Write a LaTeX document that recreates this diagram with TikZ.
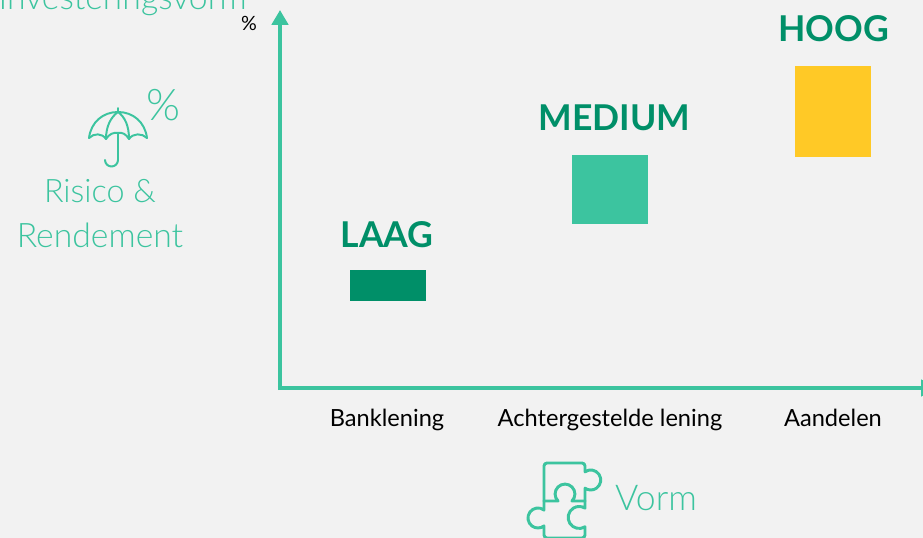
\documentclass[tikz,border=0pt]{standalone}
\usepackage{fontspec}
\setmainfont{Lato}
\usetikzlibrary{arrows.meta}
\definecolor{bgcol}{HTML}{F2F2F2}
\definecolor{lightgreen}{HTML}{3CC49F}
\definecolor{darkgreen}{HTML}{008F68}
\definecolor{yellowcol}{HTML}{FFC926}
\newfontfamily\light{Lato Light}
\tikzset{
    axisline/.style={lightgreen,line width=3pt,-{Triangle[width=11.5pt,length=10.5pt]}},
    iconline/.style={lightgreen,line width=1.4pt,line cap=round,line join=round},
    barbox/.style={anchor=north west,inner sep=0pt,outer sep=0pt},
    levellabel/.style={darkgreen,font=\fontsize{25.3}{28}\selectfont\bfseries,inner sep=0pt},
    formlabel/.style={black,anchor=base,font=\fontsize{16.8}{19}\selectfont,inner sep=0pt},
    sidelabel/.style={lightgreen,font=\fontsize{24}{28}\selectfont\light,inner sep=0pt}
}
\begin{document}
\begin{tikzpicture}[x=.025cm,y=-.025cm]
    \useasboundingbox (0,0) rectangle (923,538);
    \clip (0,0) rectangle (923,538);
    \fill[bgcol] (0,0) rectangle (923,538);
    % axes
    \coordinate (origin) at (280,388);
    \coordinate (ytop) at (280,10);
    \coordinate (xend) at (936,388);
    \draw[axisline] ([yshift=-1.5pt]origin)--(ytop);
    \draw[axisline] ([xshift=-1.5pt]origin)--(xend);
    \node[black,font=\fontsize{14}{16}\selectfont,inner sep=0pt] (percent) at (249,23) {\%};
    % boxes
    \node[barbox,fill=darkgreen,minimum width=76*.025cm,minimum height=31*.025cm] (lowbox) at (350,270) {};
    \node[barbox,fill=lightgreen,minimum width=76*.025cm,minimum height=69*.025cm] (medbox) at (572,155) {};
    \node[barbox,fill=yellowcol,minimum width=76*.025cm,minimum height=91*.025cm] (highbox) at (795,66) {};
    \node[levellabel] (lowtext) at (387,234.5) {LAAG};
    \node[levellabel] (medtext) at (614.5,117.5) {MEDIUM};
    \node[levellabel] (hightext) at (833.5,28.5) {HOOG};
    % form labels
    \node[formlabel] (bank) at (387,426) {Banklening};
    \node[formlabel] (achter) at (610,426) {Achtergestelde lening};
    \node[formlabel] (aandelen) at (833,426) {Aandelen};
    % left side
    \node[sidelabel,anchor=base east] (title) at (247,10) {Investeringsvorm};
    \node[sidelabel,font=\fontsize{23}{28}\selectfont\light] (risk) at (100,191) {Risico \&};
    \node[sidelabel] (rend) at (100,235) {Rendement};
    \node[sidelabel,font=\fontsize{31}{34}\selectfont\light] (riskpct) at (163,105.5) {\%};
    \node[sidelabel,font=\fontsize{25.3}{28}\selectfont\light] (vorm) at (656,498) {Vorm};
    % umbrella
    \draw[iconline] (89,138) .. controls (91,122) and (103,112) .. (118,112) .. controls (133,112) and (145,122) .. (147,138);
    \draw[iconline] (89,138) .. controls (94,133) and (102,133) .. (106,139) .. controls (109,134) and (114,132) .. (118,133)
        .. controls (122,132) and (126,134) .. (129,139) .. controls (133,133) and (142,133) .. (147,138);
    \draw[iconline] (106,139) .. controls (106,126) and (111,117) .. (118,112) .. controls (125,117) and (129,126) .. (129,139);
    \draw[iconline] (118,108)--(118,112);
    \draw[iconline] (118,133)--(118,160) arc (0:180:6.5);
    % puzzle
    \draw[iconline,line width=2.1pt] (544,501)--(544,466) arc (180:270:3)--(582,463) arc (270:360:3)--(585,471.8)
        arc (-125:125:10)--(585,501);
    \draw[iconline,line width=2.1pt] (544,501)--(558,501) arc (135:405:9.9)--(585,501);
    \draw[iconline,line width=2.1pt] (544,501)--(544,510) arc (-53:-307:10)--(544,535) arc (180:90:3)--(582,538) arc (90:0:3)--(585,526.8)
        arc (58:302:11)--(585,501);
\end{tikzpicture}
\end{document}
